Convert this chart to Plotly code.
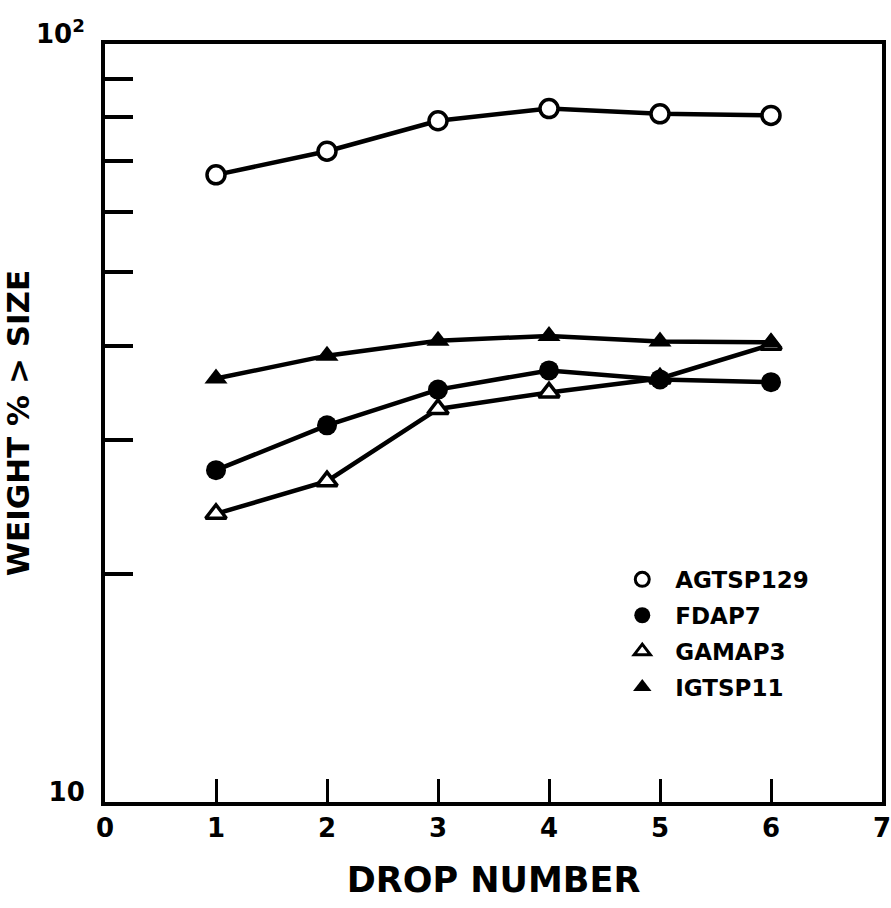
import plotly.graph_objects as go

drop_number = [1, 2, 3, 4, 5, 6]
agtsp129 = [67.2, 72.2, 79.2, 82.2, 80.9, 80.5]
fdap7 = [27.4, 31.4, 35.0, 37.1, 36.1, 35.8]
gamap3 = [24.0, 26.5, 33.0, 34.7, 36.2, 40.1]
igtsp11 = [36.2, 38.8, 40.6, 41.2, 40.5, 40.4]

x_ticks = [0, 1, 2, 3, 4, 5, 6, 7]
y_ticks = [10, 20, 30, 40, 50, 60, 70, 80, 90, 100]
y_ticktext = ["10", "", "", "", "", "", "", "", "", "10<sup>2</sup>"]

FONT = "DejaVu Sans"
BLACK = "#000000"

# name, values, symbol, filled
series = [
    ("AGTSP129", agtsp129, "circle", False),
    ("FDAP7", fdap7, "circle", True),
    ("GAMAP3", gamap3, "triangle-up", False),
    ("IGTSP11", igtsp11, "triangle-up", True),
]

fig = go.Figure()

# data traces (drawn so filled markers end on top)
for name, vals, sym, filled in [series[2], series[0], series[1], series[3]]:
    fig.add_trace(go.Scatter(
        x=drop_number, y=vals, mode="lines+markers", name=name,
        showlegend=False,
        line=dict(color=BLACK, width=4.5),
        marker=dict(symbol=sym, size=20 if filled else 18,
                    color=BLACK if filled else "white",
                    line=dict(color=BLACK, width=0 if filled else 3.5)),
    ))

# legend-only traces (markers only)
for name, vals, sym, filled in series:
    fig.add_trace(go.Scatter(
        x=[None], y=[None], mode="markers", name=name, legendgroup=name,
        marker=dict(symbol=sym, size=17 if filled else 14,
                    color=BLACK if filled else "white",
                    line=dict(color=BLACK, width=0 if filled else 3)),
    ))

fig.update_layout(
    width=891, height=908,
    margin=dict(l=105, r=9, t=44, b=106),
    paper_bgcolor="white", plot_bgcolor="white",
    font=dict(family=FONT, color=BLACK, weight="bold"),
    showlegend=True,
    legend=dict(
        x=0.649, y=0.322, xanchor="left", yanchor="top",
        bgcolor="rgba(0,0,0,0)", borderwidth=0,
        font=dict(family=FONT, size=23, color=BLACK, weight="bold"),
        tracegroupgap=3, itemwidth=56,
    ),
    xaxis=dict(
        range=[0, 7], tickvals=x_ticks, ticktext=[str(v) for v in x_ticks],
        ticks="inside", ticklen=23, tickwidth=2.5, tickcolor=BLACK,
        showline=True, linewidth=4, linecolor=BLACK, mirror=True,
        showgrid=False, zeroline=False, ticklabeloverflow="allow",
        automargin=False,
        tickfont=dict(family=FONT, size=26, color=BLACK, weight="bold"),
        title=dict(text="DROP NUMBER", standoff=26,
                   font=dict(family=FONT, size=35, color=BLACK, weight="bold")),
    ),
    yaxis=dict(
        type="log", range=[1, 2], tickvals=y_ticks, ticktext=y_ticktext,
        ticks="inside", ticklen=28, tickwidth=3.5, tickcolor=BLACK,
        showline=True, linewidth=4, linecolor=BLACK, mirror=True,
        showgrid=False, zeroline=False, ticklabelstandoff=11,
        ticklabelshift=-10, automargin=False,
        tickfont=dict(family=FONT, size=26, color=BLACK, weight="bold"),
        title=dict(text="WEIGHT % > SIZE", standoff=2,
                   font=dict(family=FONT, size=31, color=BLACK, weight="bold")),
    ),
)

fig.write_html("out.html")
